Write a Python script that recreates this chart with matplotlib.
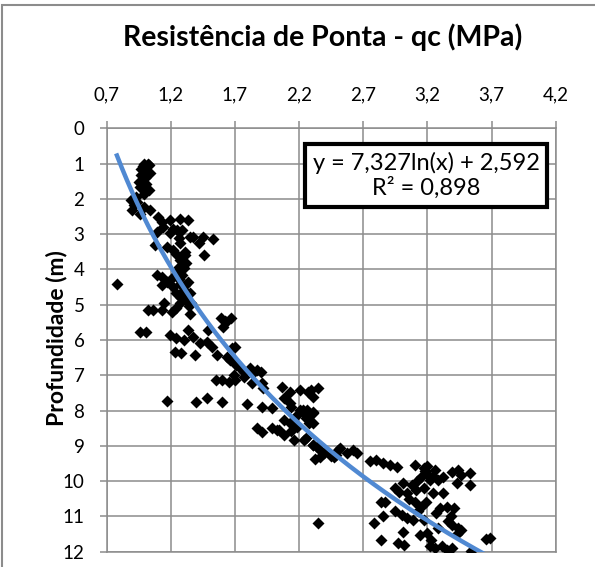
import numpy as np
import matplotlib
matplotlib.use("Agg")
import matplotlib.pyplot as plt
from matplotlib.patches import Rectangle

plt.rcParams['font.family'] = ['Lato', 'DejaVu Sans']

qc = [0.99, 1.03, 0.97, 1.01, 1.04, 0.97, 1.00, 0.95, 1.01, 0.96, 1.03, 0.99, 0.89, 0.91,
      0.90, 0.99, 1.04, 0.96, 1.10, 1.19, 1.27, 1.33, 1.14, 1.22, 1.29, 1.09, 1.19, 1.26,
      1.37, 1.45, 1.53, 1.42, 1.46, 1.31, 1.22, 1.17, 1.08, 1.02, 0.98, 0.93, 0.94, 1.13,
      1.25, 1.27, 1.35,
      1.24, 1.31, 1.27, 1.32, 1.26, 1.30, 0.78, 1.09, 1.13, 1.17, 1.13, 1.21, 1.22, 1.27,
      1.30, 1.24, 1.33, 1.35, 1.28, 1.32, 1.27, 1.36, 1.02, 1.06, 1.13, 1.15, 1.21, 1.35,
      1.59, 1.63, 1.67, 1.61, 0.96, 1.01, 1.19, 1.24, 1.30, 1.33, 1.37, 1.43, 1.48, 1.49,
      1.25, 1.29, 1.26, 1.31, 1.29, 1.34, 1.24, 1.62,
      1.23, 1.28, 1.39, 1.56, 1.64, 1.52, 1.68, 1.70, 1.66, 1.71, 1.74, 1.77, 1.82, 1.87,
      1.90, 1.84, 1.55, 1.60, 1.65, 1.70, 1.69, 1.77, 1.83, 1.91, 1.92, 1.17, 1.40, 1.48,
      1.60, 1.79, 1.91, 1.99, 2.07, 2.13, 2.21, 2.29, 2.35, 2.31, 2.08, 2.14, 2.21, 2.26,
      2.31, 2.18, 2.25, 2.08, 2.13, 2.18, 2.31, 1.87, 1.91, 1.99, 2.03, 2.08, 2.16, 2.25,
      2.31, 2.32, 2.36, 2.35, 2.47, 2.52,
      2.24, 2.31, 2.28, 2.24, 2.31, 2.36, 2.45, 2.50, 2.57, 2.62, 2.65, 2.75, 2.80, 2.85,
      2.91, 2.96, 2.27, 2.09, 2.13, 2.23, 2.26, 2.04, 2.14, 2.34, 2.39, 2.49,
      3.10, 3.17, 3.19, 3.26, 3.22, 3.28, 3.32, 3.15, 3.39, 3.44, 3.46, 3.53, 3.43, 3.53,
      2.95, 3.01, 3.08, 3.11, 3.04, 2.98, 3.24, 3.32, 3.30, 3.35, 3.41, 3.19, 3.15, 2.84,
      2.87, 2.85, 2.95, 3.00, 3.04, 3.09, 3.13, 3.17, 3.36, 3.39, 3.44, 3.46, 3.28, 3.01,
      3.14, 3.20, 3.69, 2.84, 2.97, 3.02, 3.22, 3.26, 3.31, 3.35, 3.39, 3.54, 3.23, 2.78,
      3.18, 3.20, 3.24, 3.12, 3.17, 3.06, 3.10, 3.27, 3.38, 3.43, 3.66]

depth = [1.00, 1.05, 1.14, 1.19, 1.28, 1.33, 1.42, 1.52, 1.57, 1.66, 1.75, 1.85, 2.04, 2.18,
         2.32, 2.23, 2.32, 2.42, 2.51, 2.60, 2.56, 2.60, 2.79, 2.84, 2.89, 2.93, 2.98, 3.12,
         3.09, 3.08, 3.15, 3.26, 3.59, 3.50, 3.45, 3.36, 3.31, 1.02, 1.08, 1.95, 2.10, 2.65,
         2.88, 3.26, 3.07,
         3.55, 3.59, 3.74, 3.83, 3.92, 3.97, 4.40, 4.16, 4.21, 4.35, 4.44, 4.25, 4.49, 4.40,
         4.58, 4.68, 4.35, 4.68, 4.82, 4.87, 4.96, 4.96, 5.15, 5.15, 5.15, 4.96, 5.20, 5.25,
         5.39, 5.48, 5.39, 5.62, 5.76, 5.76, 5.86, 5.95, 6.00, 5.72, 5.91, 6.09, 6.05, 5.72,
         4.05, 4.15, 4.28, 4.45, 4.75, 5.05, 5.10, 5.45,
         6.33, 6.38, 6.43, 6.43, 6.47, 6.19, 6.24, 6.19, 6.57, 6.71, 6.80, 6.90, 6.80, 6.85,
         6.90, 6.94, 7.13, 7.13, 7.18, 7.13, 6.99, 7.04, 7.23, 7.23, 7.37, 7.72, 7.75, 7.65,
         7.75, 7.80, 7.89, 7.94, 7.32, 7.46, 7.42, 7.42, 7.37, 7.61, 7.65, 7.89, 7.98, 7.98,
         8.03, 8.13, 8.22, 8.27, 8.36, 8.46, 8.36, 8.50, 8.60, 8.50, 8.55, 8.69, 8.84, 8.79,
         8.98, 9.36, 9.31, 11.20, 9.31, 9.07,
         8.07, 8.07, 8.35, 8.83, 8.97, 9.11, 9.30, 9.11, 9.21, 9.11, 9.21, 9.44, 9.40, 9.49,
         9.54, 9.59, 7.46, 7.65, 7.79, 7.98, 8.22, 8.55, 8.59, 9.02, 9.21, 9.26,
         9.54, 9.63, 9.77, 9.68, 9.96, 9.96, 9.87, 9.87, 9.73, 9.68, 9.82, 9.77, 10.06, 10.10,
         10.20, 10.06, 10.10, 10.25, 10.34, 10.30, 10.34, 10.34, 10.76, 10.72, 10.76, 10.58, 10.72, 10.58,
         10.58, 11.00, 10.86, 10.95, 11.05, 11.10, 10.86, 11.10, 11.14, 11.24, 11.33, 11.38, 11.33, 11.43,
         11.52, 11.47, 11.62, 11.66, 11.76, 11.80, 11.85, 11.90, 11.85, 11.95, 11.90, 11.99, 11.66, 11.20,
         9.70, 9.58, 9.85, 10.00, 10.20, 10.50, 10.60, 10.90, 11.00, 11.50, 11.65]

# logarithmic trend fitted in the spreadsheet
coef_a = 7.327
coef_b = 2.592
r2 = 0.898

x_ticks = [0.7, 1.2, 1.7, 2.2, 2.7, 3.2, 3.7, 4.2]
y_ticks = list(range(0, 13))

fig = plt.figure(figsize=(5.95, 5.67), dpi=100)
ax = fig.add_axes([0.1793, 0.027, 0.7547, 0.7467])

ax.plot(qc, depth, 'D', color='black', ms=6, mec='none', zorder=3)

xs = np.linspace(min(qc), max(qc), 300)
ax.plot(xs, coef_a * np.log(xs) + coef_b, color='#5089d2', lw=3.2, zorder=4)

ax.set_xlim(0.7, 4.2)
ax.set_ylim(12, 0)
ax.set_xticks(x_ticks)
ax.set_yticks(y_ticks)
ax.set_xticklabels([f'{v:.1f}'.replace('.', ',') for v in x_ticks])
ax.xaxis.tick_top()
ax.grid(True, color='#8c8c8c', lw=1.1)
ax.set_axisbelow(True)
for s in ax.spines.values():
    s.set_color('#8c8c8c')
    s.set_linewidth(1.1)
ax.tick_params(axis='both', direction='out', length=5, width=1.1, color='#8c8c8c',
               labelsize=13.5, labelcolor='black')
ax.tick_params(axis='x', pad=13)
ax.tick_params(axis='y', pad=11)

ax.set_ylabel('Profundidade (m)', fontsize=16.5, fontweight='bold')
ax.yaxis.set_label_coords(-0.088, 0.505)
fig.text(0.542, 0.918, 'Resistência de Ponta - qc (MPa)', ha='center', va='baseline',
         fontsize=20.5, fontweight='bold')

eq = f'y = {coef_a:.3f}ln(x) + {coef_b:.3f}'.replace('.', ',')
r2_txt = f'R² = {r2:.3f}'.replace('.', ',')
ax.text(0.716, 0.69, eq + '\n' + r2_txt,
        transform=fig.transFigure, ha='center', va='center', fontsize=17,
        linespacing=1.15, zorder=6,
        bbox=dict(boxstyle='square,pad=0.33', fc='white', ec='black', lw=3))

# outer chart frame
fig.patches.append(Rectangle((0.004, -0.05), 1.1, 1.042, transform=fig.transFigure,
                             fill=False, ec='#8c8c8c', lw=1.5))

fig.savefig('out.png', dpi=100)
